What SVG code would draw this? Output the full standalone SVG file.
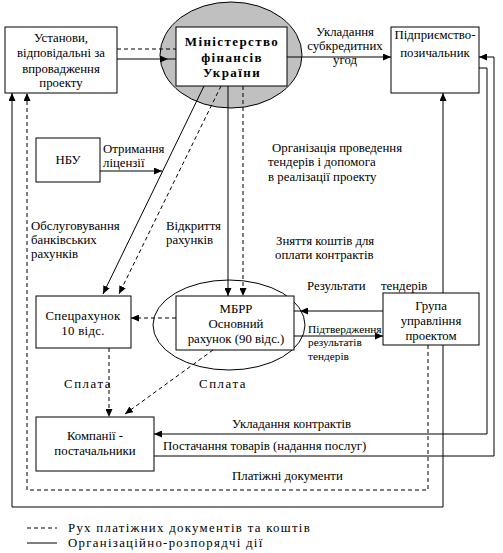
<svg xmlns="http://www.w3.org/2000/svg" width="503" height="553" viewBox="0 0 503 553" font-family="'Liberation Serif', 'DejaVu Serif', serif">
<style>
text{font-family:"Liberation Serif","DejaVu Serif",serif;font-size:12.8px;fill:#000}
.c{text-anchor:middle}
.s{font-size:11.3px}
.b{font-weight:bold;font-size:13px;letter-spacing:1.4px}
.sp{letter-spacing:1.6px}
.lg{letter-spacing:1.3px}
.box{fill:#fff;stroke:#000;stroke-width:1}
.ln{fill:none;stroke:#000;stroke-width:1}
.d{fill:none;stroke:#000;stroke-width:1;stroke-dasharray:4,3}
</style>
<defs>
<marker id="a" markerUnits="userSpaceOnUse" markerWidth="8" markerHeight="7" refX="8" refY="3.5" orient="auto-start-reverse">
<path d="M0,0 L8,3.5 L0,7 z" fill="#000"/>
</marker>
</defs>
<rect width="503" height="553" fill="#fff"/>

<g id="ministry">
<ellipse cx="231" cy="55" rx="71" ry="53" fill="#c0c0c0" stroke="#000"/>
<rect class="box" x="176" y="27" width="111" height="59"/>
<text class="c b" x="232" y="46">Міністерство</text>
<text class="c b" x="232" y="62">фінансів</text>
<text class="c b" x="232" y="77">України</text>
</g>

<g id="mbrr">
<ellipse cx="229" cy="325" rx="76" ry="45" fill="#fff" stroke="#000"/>
<rect class="box" x="176" y="296" width="118" height="54"/>
<text class="c" x="236" y="313">МБРР</text>
<text class="c" x="236" y="328">Основний</text>
<text class="c" x="236" y="343">рахунок (90 відс.)</text>
</g>

<g id="connectors">
<line class="d" x1="117" y1="49" x2="176" y2="49"/>
<path class="ln" d="M117,59 H168" marker-end="url(#a)"/>
<line class="ln" x1="168" y1="59" x2="176" y2="59"/>
<path class="ln" d="M287,57 H391" marker-end="url(#a)"/>
<path class="ln" d="M204,86 L103,294" marker-end="url(#a)"/>
<path class="d" d="M221,86 L119,294" marker-end="url(#a)"/>
<path class="ln" d="M228,86 V296" marker-end="url(#a)"/>
<path class="d" d="M243,86 V296" marker-end="url(#a)"/>
<path class="ln" d="M100,171 H162" marker-end="url(#a)"/>
<path class="d" d="M176,318 H131" marker-end="url(#a)"/>
<path class="d" d="M109,348 V417" marker-end="url(#a)"/>
<path class="d" d="M213,350 L125,414" marker-end="url(#a)"/>
<path class="ln" d="M383,311 H300" marker-end="url(#a)"/>
<line class="ln" x1="300" y1="311" x2="294" y2="311"/>
<path class="ln" d="M294,336 H383" marker-end="url(#a)"/>
<path class="ln" d="M12,93 V507 H443 V93" marker-start="url(#a)" marker-end="url(#a)"/>
<path class="d" d="M428,345 V490 H27 V93" marker-end="url(#a)"/>
<path class="ln" d="M479,68 H487 V434 H154" marker-end="url(#a)"/>
<path class="ln" d="M154,456 H494 V57 H479" marker-end="url(#a)"/>
<line class="d" x1="27" y1="528" x2="57" y2="528"/>
<line class="ln" x1="27" y1="543" x2="57" y2="543"/>
</g>

<g id="ustanovy">
<rect class="box" x="5" y="27" width="112" height="66"/>
<text class="c" x="61" y="42">Установи,</text>
<text class="c" x="61" y="57">відповідальні за</text>
<text class="c" x="61" y="73">впровадження</text>
<text class="c" x="61" y="87">проекту</text>
</g>

<g id="pidpryiemstvo">
<rect class="box" x="391" y="27" width="88" height="66"/>
<text class="c" x="435" y="39">Підприємство-</text>
<text class="c" x="435" y="57">позичальник</text>
</g>

<g id="nbu">
<rect class="box" x="36" y="138" width="64" height="44"/>
<text class="c" x="68" y="164">НБУ</text>
</g>

<g id="specrakhunok">
<rect class="box" x="36" y="296" width="95" height="52"/>
<text class="c" x="83" y="320" style="letter-spacing:0.3px">Спецрахунок</text>
<text class="c" x="83" y="335" style="letter-spacing:0.3px">10 відс.</text>
</g>

<g id="grupa">
<rect class="box" x="383" y="293" width="96" height="52"/>
<text class="c" x="431" y="310">Група</text>
<text class="c" x="431" y="325">управління</text>
<text class="c" x="431" y="340">проектом</text>
</g>

<g id="kompanii">
<rect class="box" x="36" y="417" width="118" height="54"/>
<text class="c" x="95" y="440">Компанії -</text>
<text class="c" x="95" y="455">постачальники</text>
</g>

<g id="labels">
<text class="c" x="345" y="36">Укладання</text>
<text class="c" x="345" y="50">субкредитних</text>
<text class="c" x="345" y="64">угод</text>
<text x="103" y="153">Отримання</text>
<text x="103" y="167">ліцензії</text>
<text x="31" y="230">Обслуговування</text>
<text x="31" y="244">банківських</text>
<text x="31" y="258">рахунків</text>
<text x="166" y="230">Відкриття</text>
<text x="166" y="244">рахунків</text>
<text x="272" y="152">Організація проведення</text>
<text x="268" y="166">тендерів і допомога</text>
<text x="268" y="181">в реалізації проекту</text>
<text x="276" y="245">Зняття коштів для</text>
<text x="275" y="259">оплати контрактів</text>
<text x="307" y="290">Результати</text>
<text x="381" y="290">тендерів</text>
<text class="s" x="308" y="333">Підтвердження</text>
<text class="s" x="308" y="346">результатів</text>
<text class="s" x="308" y="360">тендерів</text>
<text class="sp" x="64" y="388">Сплата</text>
<text class="sp" x="199" y="388">Сплата</text>
<text x="232" y="428">Укладання контрактів</text>
<text x="163" y="450">Постачання товарів (надання послуг)</text>
<text x="232" y="480">Платіжні документи</text>
</g>

<g id="legend">
<text class="lg" x="68" y="532">Рух платіжних документів та коштів</text>
<text class="lg" x="68" y="547">Організаційно-розпорядчі дії</text>
</g>
</svg>
